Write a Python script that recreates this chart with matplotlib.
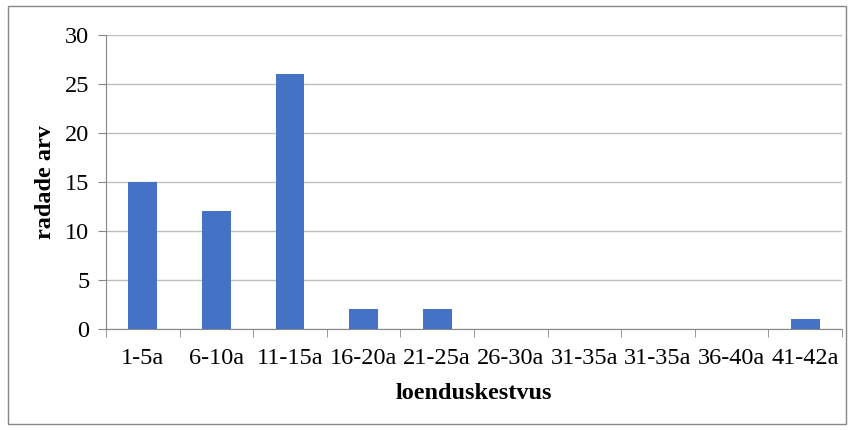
import matplotlib.pyplot as plt
import matplotlib.patches as mpatches
import numpy as np

categories = ["1-5a", "6-10a", "11-15a", "16-20a", "21-25a", "26-30a",
              "31-35a", "31-35a", "36-40a", "41-42a"]
counts = [15, 12, 26, 2, 2, 0, 0, 0, 0, 1]

plt.rcParams['font.family'] = ['Liberation Serif', 'DejaVu Serif']

fig = plt.figure(figsize=(8.53, 4.30), dpi=100)
ax = fig.add_axes([106 / 853, 1 - 329 / 430, 736 / 853, 294 / 430])

x = np.arange(len(categories))
ax.bar(x, counts, width=0.39, color="#4472C4", zorder=3)

ax.set_xlim(-0.5, len(categories) - 0.5)
ax.set_ylim(0, 30)
ax.set_yticks(range(0, 31, 5))
ax.yaxis.grid(True, color="#BFBFBF", linewidth=1)
ax.set_axisbelow(True)

# category labels centred, tick marks on the category boundaries
ax.set_xticks(x)
ax.set_xticklabels(categories, fontsize=17.5)
ax.set_xticks(np.arange(-0.5, len(categories)), minor=True)
ax.tick_params(axis="x", which="major", length=0, pad=14)
ax.tick_params(axis="x", which="minor", length=6, color="#878787")
ax.tick_params(axis="y", length=6, color="#878787", labelsize=17.5, pad=6)

for side in ("top", "right"):
    ax.spines[side].set_visible(False)
for side in ("left", "bottom"):
    ax.spines[side].set_color("#878787")

ax.set_xlabel("loenduskestvus", fontsize=17.5, fontweight="bold", labelpad=10)
ax.set_ylabel("radade arv", fontsize=17.5, fontweight="bold", labelpad=6)

# outer chart frame
fig.patches.append(mpatches.Rectangle((8 / 853, 6 / 430), 838 / 853, 418 / 430,
                                      transform=fig.transFigure, fill=False,
                                      edgecolor="#878787", linewidth=1))

fig.savefig("out.png", dpi=100)
